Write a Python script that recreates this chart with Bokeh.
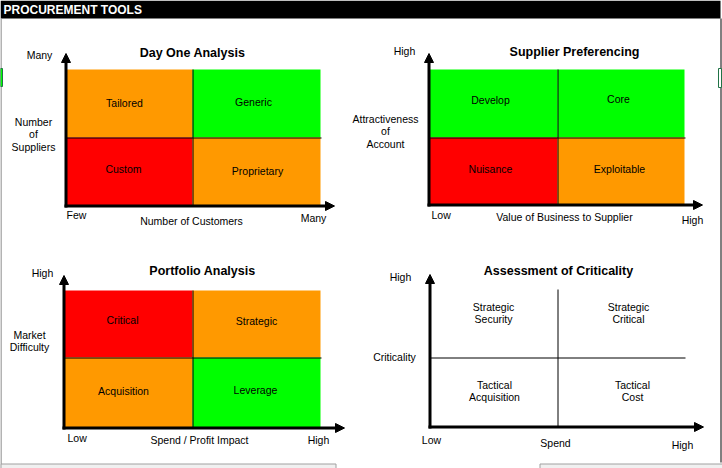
from bokeh.plotting import figure
from bokeh.models import Range1d, ColumnDataSource, Arrow, NormalHead
from bokeh.core.properties import value
from bokeh.embed import file_html
from bokeh.resources import INLINE

# ---------------- content ----------------
HEADER = "PROCUREMENT TOOLS"
TITLES = ["Day One Analysis", "Supplier Preferencing", "Portfolio Analysis", "Assessment of Criticality"]
Y_TITLES = [["Number", "of", "Suppliers"], ["Attractiveness", "of", "Account"],
            ["Market", "Difficulty"], ["Criticality"]]
X_TITLES = ["Number of Customers", "Value of Business to Supplier", "Spend / Profit Impact", "Spend"]
LOW_LABELS = ["Few", "Low", "Low", "Low"]
HIGH_LABELS = ["Many", "High", "High", "High"]
# quadrant order: top-left, top-right, bottom-left, bottom-right
QUAD_LABELS = [
    [["Tailored"], ["Generic"], ["Custom"], ["Proprietary"]],
    [["Develop"], ["Core"], ["Nuisance"], ["Exploitable"]],
    [["Critical"], ["Strategic"], ["Acquisition"], ["Leverage"]],
    [["Strategic", "Security"], ["Strategic", "Critical"], ["Tactical", "Acquisition"], ["Tactical", "Cost"]],
]
ORANGE, GREEN, RED = "#FF9900", "#00FF00", "#FF0000"
QUAD_COLORS = [
    [ORANGE, GREEN, RED, ORANGE],
    [GREEN, GREEN, RED, ORANGE],
    [RED, ORANGE, ORANGE, GREEN],
    [None, None, None, None],
]

# ---------------- layout (pixel positions of each panel) ----------------
LAYOUT = [
    dict(ax=65, ay=205, ytip=53, xtip=334, left=66, right=320, top=69, midx=192, midy=137, hright=321,
         title=(192, 52), yhigh=(39, 54), low=(66, 214), high=(313, 217), xt=(191, 220),
         yt=(33, [121, 133, 146]), quads=[(124, [102]), (253, [101]), (123, [168]), (257, [170])],
         low_align="left"),
    dict(ax=428, ay=204, ytip=53, xtip=702, left=429, right=684, top=69, midx=557, midy=137, hright=685,
         title=(574, 51), yhigh=(404, 50), low=(431, 214), high=(692, 219), xt=(564, 216),
         yt=(385, [118, 130, 143]), quads=[(490, [99]), (618, [98]), (490, [168]), (619, [168])],
         low_align="left"),
    dict(ax=63, ay=427, ytip=275, xtip=344, left=64, right=320, top=290, midx=192, midy=357, hright=321,
         title=(202, 270), yhigh=(42, 272), low=(67, 437), high=(318, 439), xt=(199, 439),
         yt=(29, [334, 346]), quads=[(122, [319]), (256, [320]), (123, [390]), (255, [389])],
         low_align="left"),
    dict(ax=429, ay=426, ytip=274, xtip=703, left=429, right=685, top=289, midx=557, midy=357, hright=685,
         title=(558, 270), yhigh=(400, 276), low=(431, 439), high=(682, 444), xt=(555, 442),
         yt=(394, [356]), quads=[(493, [306, 318]), (628, [306, 318]), (494, [384, 396]), (632, [384, 396])],
         low_align="center"),
]

W, H = 722, 468
FONT = value("Liberation Sans")

p = figure(width=W, height=H, output_backend="svg", toolbar_location=None,
           x_range=Range1d(0, W), y_range=Range1d(H, 0), min_border=0,
           background_fill_color="white", border_fill_color="white",
           outline_line_color=None, margin=(0, 0, 0, 0))
p.axis.visible = False
p.grid.visible = False

# sheet frame
p.quad(left=[0], right=[720], top=[0], bottom=[18], fill_color="black", line_color=None)
p.segment(x0=[720.5], y0=[18], x1=[720.5], y1=[462], line_color="black", line_width=1)
p.segment(x0=[0.5], y0=[18], x1=[0.5], y1=[468], line_color="#9a9a9a", line_width=1.5)
p.quad(left=[0.5, 539.5], right=[335.5, 722], top=[463.5, 463.5], bottom=[470, 470],
       fill_color="#f0f0f0", line_color="#a0a0a0", line_width=1)
p.quad(left=[0, 718], right=[2, 721], top=[68, 68], bottom=[86, 87],
       fill_color=[GREEN, "white"], line_color=["#217346", "#217346"], line_width=1)
p.text(x=[3], y=[9.5], text=[HEADER], text_color="white", text_font=FONT,
       text_font_size="12px", text_font_style="bold", text_baseline="middle", text_align="left")

# quadrant fills
ql, qr, qt, qb, qc = [], [], [], [], []
for lay, cols in zip(LAYOUT, QUAD_COLORS):
    boxes = [(lay["left"], lay["midx"], lay["top"], lay["midy"]),
             (lay["midx"], lay["right"], lay["top"], lay["midy"]),
             (lay["left"], lay["midx"], lay["midy"], lay["ay"]),
             (lay["midx"], lay["right"], lay["midy"], lay["ay"])]
    for (l, r, t, b), c in zip(boxes, cols):
        if c is None:
            continue
        ql.append(l); qr.append(r); qt.append(t); qb.append(b); qc.append(c)
p.quad(left=ql, right=qr, top=qt, bottom=qb, fill_color=qc, line_color=None)

# dividers
sx0, sy0, sx1, sy1 = [], [], [], []
for lay in LAYOUT:
    sx0 += [lay["midx"] + 0.5, lay["ax"]]
    sy0 += [lay["top"], lay["midy"] + 0.5]
    sx1 += [lay["midx"] + 0.5, lay["hright"]]
    sy1 += [lay["ay"], lay["midy"] + 0.5]
p.segment(x0=sx0, y0=sy0, x1=sx1, y1=sy1, line_color="black", line_width=1)

# axes with arrow heads
for lay in LAYOUT:
    ax, ay = lay["ax"] + 0.5, lay["ay"] + 0.5
    p.add_layout(Arrow(x_start=ax, y_start=ay + 1.5, x_end=ax, y_end=lay["ytip"],
                       line_width=3, line_color="black",
                       end=NormalHead(size=9, fill_color="black", line_color="black", line_width=1)))
    p.add_layout(Arrow(x_start=ax - 1.5, y_start=ay, x_end=lay["xtip"], y_end=ay,
                       line_width=3, line_color="black",
                       end=NormalHead(size=9, fill_color="black", line_color="black", line_width=1)))

# texts
titles = dict(x=[], y=[], t=[])
center = dict(x=[], y=[], t=[])
left = dict(x=[], y=[], t=[])
for i, lay in enumerate(LAYOUT):
    titles["x"].append(lay["title"][0]); titles["y"].append(lay["title"][1]); titles["t"].append(TITLES[i])
    center["x"].append(lay["yhigh"][0]); center["y"].append(lay["yhigh"][1]); center["t"].append(HIGH_LABELS[i])
    center["x"].append(lay["high"][0]); center["y"].append(lay["high"][1]); center["t"].append(HIGH_LABELS[i])
    center["x"].append(lay["xt"][0]); center["y"].append(lay["xt"][1]); center["t"].append(X_TITLES[i])
    tgt = left if lay["low_align"] == "left" else center
    tgt["x"].append(lay["low"][0]); tgt["y"].append(lay["low"][1]); tgt["t"].append(LOW_LABELS[i])
    for line, yy in zip(Y_TITLES[i], lay["yt"][1]):
        center["x"].append(lay["yt"][0]); center["y"].append(yy); center["t"].append(line)
    for lines, (qx, qys) in zip(QUAD_LABELS[i], lay["quads"]):
        for line, yy in zip(lines, qys):
            center["x"].append(qx); center["y"].append(yy); center["t"].append(line)

p.text(x="x", y="y", text="t", source=ColumnDataSource(titles), text_font=FONT,
       text_font_size="12.5px", text_font_style="bold", text_color="black",
       text_align="center", text_baseline="middle")
p.text(x="x", y="y", text="t", source=ColumnDataSource(center), text_font=FONT,
       text_font_size="10.5px", text_color="black", text_align="center", text_baseline="middle")
p.text(x="x", y="y", text="t", source=ColumnDataSource(left), text_font=FONT,
       text_font_size="10.5px", text_color="black", text_align="left", text_baseline="middle")

open("out.html", "w").write(file_html(p, INLINE))
